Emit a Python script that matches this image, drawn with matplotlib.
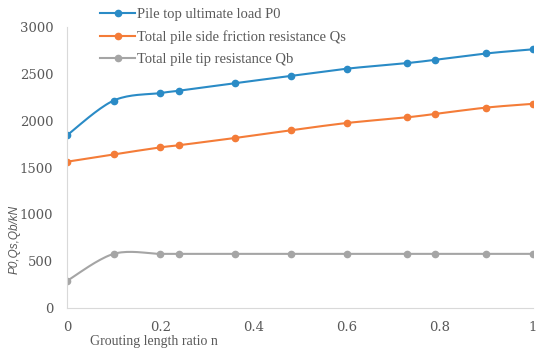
import numpy as np
import matplotlib
matplotlib.use('Agg')
import matplotlib.pyplot as plt

# grouting length ratio n
n = [0, 0.1, 0.2, 0.24, 0.36, 0.48, 0.6, 0.73, 0.79, 0.9, 1.0]
p0 = [1845, 2215, 2295, 2320, 2400, 2478, 2555, 2615, 2650, 2718, 2762]
qs = [1562, 1640, 1715, 1738, 1815, 1897, 1975, 2036, 2072, 2140, 2180]
qb = [290, 578, 578, 578, 578, 578, 578, 578, 578, 578, 578]

labels = ['Pile top ultimate load P0',
          'Total pile side friction resistance Qs',
          'Total pile tip resistance Qb']
colors = ['#2a8bc6', '#f47c38', '#a5a5a5']


def smooth(x, y, steps=20):
    # excel-like smoothed line: bezier segments through the points
    x = np.asarray(x, float)
    y = np.asarray(y, float)
    px = np.concatenate([[x[0]], x, [x[-1]]])
    py = np.concatenate([[y[0]], y, [y[-1]]])
    xs, ys = [], []
    t = np.linspace(0, 1, steps)
    for i in range(1, len(px) - 2):
        a = np.array([px[i], py[i]])
        b = np.array([px[i + 1], py[i + 1]])
        c1 = a + (b - np.array([px[i - 1], py[i - 1]])) / 6
        c2 = b - (np.array([px[i + 2], py[i + 2]]) - a) / 6
        pts = ((1 - t) ** 3)[:, None] * a + (3 * (1 - t) ** 2 * t)[:, None] * c1 \
            + (3 * (1 - t) * t ** 2)[:, None] * c2 + (t ** 3)[:, None] * b
        xs.extend(pts[:, 0])
        ys.extend(pts[:, 1])
    return xs, ys


plt.rcParams['font.family'] = 'DejaVu Serif'

fig = plt.figure(figsize=(5.5, 3.51), dpi=100)
ax = fig.add_axes([0.122, 0.1225, 0.847, 0.8005])

handles = []
for ys, lab, col in zip([p0, qs, qb], labels, colors):
    sx, sy = smooth(n, ys)
    ax.plot(sx, sy, color=col, lw=1.5)
    ax.plot(n, ys, 'o', color=col, ms=4.5)
    h, = ax.plot([], [], '-o', color=col, lw=1.5, ms=4.5, label=lab)
    handles.append(h)

ax.set_xlim(0, 1)
ax.set_ylim(0, 3000)
ax.set_xticks([0, 0.2, 0.4, 0.6, 0.8, 1])
ax.set_xticklabels(['0', '0.2', '0.4', '0.6', '0.8', '1'])
ax.set_yticks(range(0, 3001, 500))

for s in ['top', 'right']:
    ax.spines[s].set_visible(False)
for s in ['left', 'bottom']:
    ax.spines[s].set_color('#d9d9d9')
ax.tick_params(length=0, labelsize=9.5, colors='#595959')
ax.tick_params(axis='x', pad=9)
ax.tick_params(axis='y', pad=10)

fig.text(0.28, 0.028, 'Grouting length ratio n', fontsize=10, color='#595959',
         ha='center', va='center', family='Liberation Serif')
fig.text(0.027, 0.319, 'P0,Qs,Qb/kN', fontsize=8.5, color='#595959',
         rotation=90, style='italic', ha='center', va='center',
         family='Liberation Sans')

fig.legend(handles, labels, loc='upper left', bbox_to_anchor=(0.158, 1.015),
           frameon=False, prop={'family': 'Liberation Serif', 'size': 10.5},
           labelcolor='#595959', handlelength=2.4, handletextpad=0.15,
           labelspacing=0.62)

fig.savefig('out.png', dpi=100)
